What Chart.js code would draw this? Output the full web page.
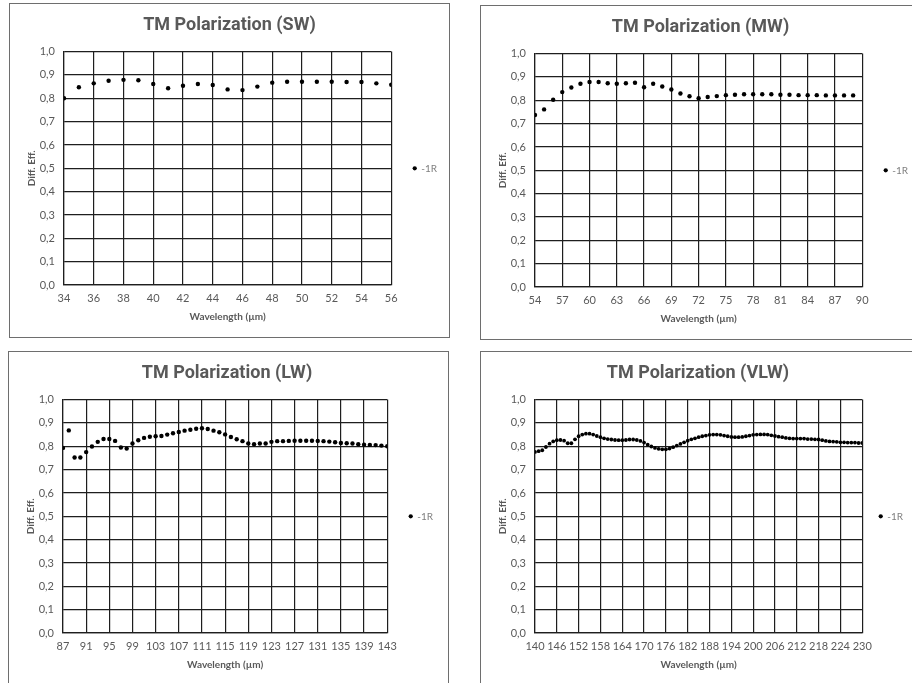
<!DOCTYPE html>
<html>
<head>
<meta charset="utf-8">
<script src="https://cdn.jsdelivr.net/npm/chart.js@4.4.0/dist/chart.umd.min.js"></script>
<style>
    html, body { margin: 0; padding: 0; background: #fff; overflow: hidden; width: 912px; height: 683px; }
    .box { position: absolute; width: 439px; height: 333px; border: 1px solid #6e6e6e; background: #fff; }
    .box canvas { display: block; }
</style>
</head>
<body>
<div class="box" style="left:9px; top:3px;"><canvas id="swChart" width="439" height="333"></canvas></div>
<div class="box" style="left:480px; top:5px;"><canvas id="mwChart" width="439" height="333"></canvas></div>
<div class="box" style="left:8px; top:351px;"><canvas id="lwChart" width="439" height="333"></canvas></div>
<div class="box" style="left:480px; top:351px;"><canvas id="vlwChart" width="439" height="333"></canvas></div>

<script>
var seriesName = "-1R";
var yTicks = [0, 0.1, 0.2, 0.3, 0.4, 0.5, 0.6, 0.7, 0.8, 0.9, 1.0];

// SW: 34..56 um
var swWave = [34, 35, 36, 37, 38, 39, 40, 41, 42, 43, 44, 45, 46, 47, 48, 49, 50, 51, 52, 53, 54, 55, 56];
var swEff = [0.800, 0.847, 0.864, 0.875, 0.879, 0.877, 0.861, 0.843, 0.854, 0.861, 0.857, 0.838, 0.835, 0.850,
    0.867, 0.871, 0.871, 0.871, 0.871, 0.870, 0.870, 0.864, 0.858];

// MW: 54..89 um
var mwWave = [54, 55, 56, 57, 58, 59, 60, 61, 62, 63, 64, 65, 66, 67, 68, 69, 70, 71, 72, 73, 74, 75, 76, 77,
    78, 79, 80, 81, 82, 83, 84, 85, 86, 87, 88, 89];
var mwEff = [0.737, 0.761, 0.802, 0.835, 0.855, 0.871, 0.878, 0.878, 0.873, 0.871, 0.873, 0.875, 0.856, 0.871,
    0.859, 0.846, 0.829, 0.817, 0.809, 0.814, 0.818, 0.822, 0.824, 0.826, 0.826, 0.826, 0.826, 0.824,
    0.824, 0.822, 0.822, 0.822, 0.821, 0.821, 0.821, 0.821];

// LW: 87..143 um
var lwWave = [87, 88, 89, 90, 91, 92, 93, 94, 95, 96, 97, 98, 99, 100, 101, 102, 103, 104, 105, 106, 107, 108,
    109, 110, 111, 112, 113, 114, 115, 116, 117, 118, 119, 120, 121, 122, 123, 124, 125, 126, 127, 128, 129,
    130, 131, 132, 133, 134, 135, 136, 137, 138, 139, 140, 141, 142, 143];
var lwEff = [0.793, 0.868, 0.752, 0.752, 0.775, 0.799, 0.819, 0.831, 0.831, 0.823, 0.795, 0.790, 0.812, 0.826,
    0.836, 0.841, 0.843, 0.844, 0.850, 0.856, 0.861, 0.867, 0.871, 0.875, 0.877, 0.874, 0.867, 0.860,
    0.851, 0.840, 0.830, 0.822, 0.812, 0.809, 0.812, 0.812, 0.819, 0.822, 0.822, 0.823, 0.824, 0.824,
    0.824, 0.824, 0.823, 0.822, 0.820, 0.817, 0.814, 0.813, 0.812, 0.809, 0.807, 0.806, 0.805, 0.803, 0.800];

// VLW: 140..230 um
var vlwWave = [140, 141, 142, 143, 144, 145, 146, 147, 148, 149, 150, 151, 152, 153, 154, 155, 156, 157, 158,
    159, 160, 161, 162, 163, 164, 165, 166, 167, 168, 169, 170, 171, 172, 173, 174, 175, 176, 177, 178, 179,
    180, 181, 182, 183, 184, 185, 186, 187, 188, 189, 190, 191, 192, 193, 194, 195, 196, 197, 198, 199, 200,
    201, 202, 203, 204, 205, 206, 207, 208, 209, 210, 211, 212, 213, 214, 215, 216, 217, 218, 219, 220, 221,
    222, 223, 224, 225, 226, 227, 228, 229, 230];
var vlwEff = [0.776, 0.779, 0.783, 0.797, 0.811, 0.821, 0.826, 0.827, 0.824, 0.813, 0.813, 0.830, 0.843, 0.850,
    0.854, 0.854, 0.850, 0.844, 0.839, 0.834, 0.831, 0.829, 0.827, 0.826, 0.826, 0.827, 0.829, 0.829,
    0.827, 0.823, 0.816, 0.807, 0.799, 0.793, 0.789, 0.787, 0.787, 0.790, 0.796, 0.803, 0.810, 0.817,
    0.824, 0.830, 0.834, 0.839, 0.843, 0.846, 0.849, 0.850, 0.850, 0.849, 0.846, 0.843, 0.840, 0.839,
    0.839, 0.840, 0.843, 0.846, 0.849, 0.850, 0.851, 0.851, 0.850, 0.847, 0.844, 0.841, 0.839, 0.836,
    0.834, 0.833, 0.833, 0.833, 0.833, 0.831, 0.831, 0.830, 0.829, 0.826, 0.823, 0.821, 0.820, 0.819,
    0.817, 0.817, 0.816, 0.816, 0.816, 0.814, 0.814];

var textGrey = "#595959";
var gridCol = "#1e1e1e";
var fontFam = "Lato, 'Open Sans', sans-serif";
var titleFam = "Roboto, 'Open Sans', sans-serif";

function toPoints(xs, ys) {
    var pts = [];
    for (var i = 0; i < xs.length; i++) {
        pts.push({ x: xs[i], y: ys[i] });
    }
    return pts;
}

function makeChart(id, title, xs, ys, xMin, xMax, xStep, dotR, rightPad, legendPad) {
    var ctx = document.getElementById(id);
    return new Chart(ctx, {
        type: 'scatter',
        data: {
            datasets: [{
                label: seriesName,
                data: toPoints(xs, ys),
                pointRadius: dotR,
                pointHoverRadius: dotR,
                pointStyle: 'circle',
                backgroundColor: "#000",
                borderColor: "#000",
                borderWidth: 0
            }]
        },
        options: {
            responsive: false,
            animation: false,
            layout: {
                padding: { left: 2, right: rightPad, top: 0, bottom: 0 }
            },
            plugins: {
                title: {
                    display: true,
                    text: title,
                    color: textGrey,
                    font: { family: titleFam, size: 18, weight: 'bold' },
                    padding: { top: 11, bottom: 15 }
                },
                legend: {
                    display: true,
                    position: 'right',
                    fullSize: false,
                    labels: {
                        usePointStyle: true,
                        boxWidth: 3,
                        boxHeight: 3,
                        padding: legendPad,
                        color: "#7f7f7f",
                        font: { family: fontFam, size: 10 }
                    }
                },
                tooltip: { enabled: false }
            },
            scales: {
                x: {
                    type: 'linear',
                    min: xMin,
                    max: xMax,
                    afterFit: function(s) { s.height = 52; },
                    ticks: {
                        stepSize: xStep,
                        autoSkip: false,
                        color: textGrey,
                        padding: 7,
                        maxRotation: 0,
                        font: { family: fontFam, size: 11 }
                    },
                    grid: { color: gridCol, lineWidth: 1.2, drawTicks: false },
                    border: { color: gridCol, width: 1.2 },
                    title: {
                        display: true,
                        text: 'Wavelength (µm)',
                        color: textGrey,
                        font: { family: fontFam, size: 10, weight: 'bold' },
                        padding: { top: 0, bottom: 14 }
                    }
                },
                y: {
                    min: 0,
                    max: 1,
                    afterFit: function(s) { s.width = 52; },
                    afterBuildTicks: function(s) {
                        s.ticks = yTicks.map(function(v) { return { value: v }; });
                    },
                    ticks: {
                        color: textGrey,
                        padding: 9,
                        font: { family: fontFam, size: 11 },
                        callback: function(v) { return v.toFixed(1).replace('.', ','); }
                    },
                    grid: { color: gridCol, lineWidth: 1.2, drawTicks: false },
                    border: { color: gridCol, width: 1.2 },
                    title: {
                        display: true,
                        text: 'Diff. Eff.',
                        color: textGrey,
                        font: { family: fontFam, size: 10, weight: 'bold' },
                        padding: { top: 14, bottom: 0 }
                    }
                }
            }
        }
    });
}

makeChart("swChart", "TM Polarization (SW)", swWave, swEff, 34, 56, 2, 2.2, 2, 22);
makeChart("mwChart", "TM Polarization (MW)", mwWave, mwEff, 54, 90, 3, 2.2, 2, 22);
makeChart("lwChart", "TM Polarization (LW)", lwWave, lwEff, 87, 143, 4, 2.2, 5, 22);
makeChart("vlwChart", "TM Polarization (VLW)", vlwWave, vlwEff, 140, 230, 6, 1.9, 7, 17);
</script>
</body>
</html>
